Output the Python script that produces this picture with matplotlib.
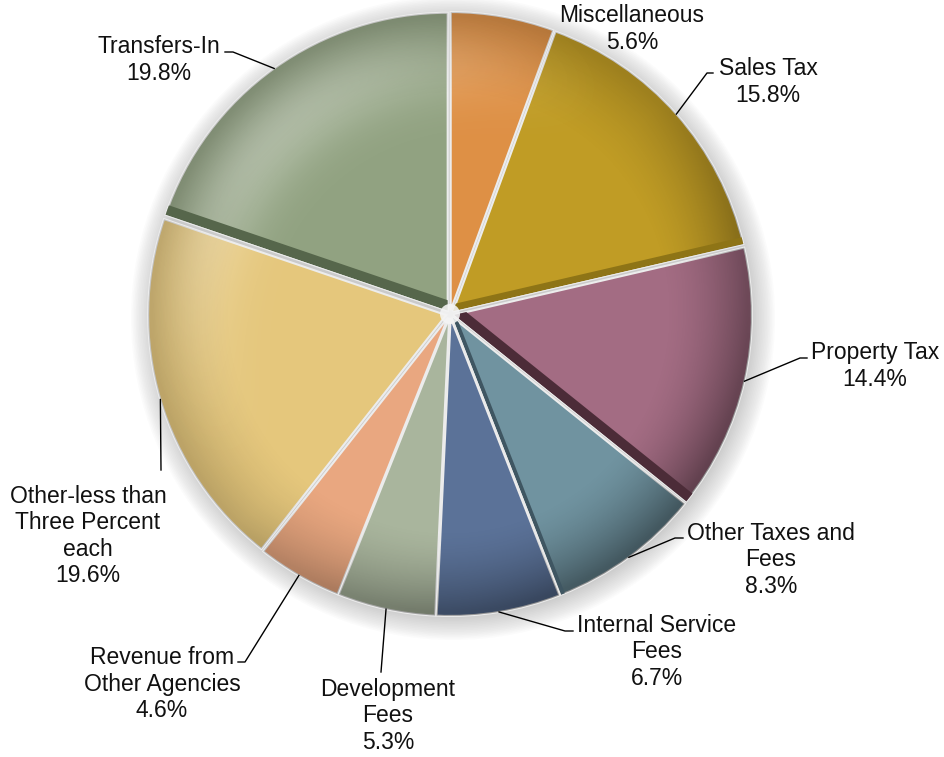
import numpy as np
import matplotlib.pyplot as plt
from matplotlib.patches import Circle, Polygon

plt.rcParams['font.family'] = ['Liberation Sans', 'DejaVu Sans']

labels = ['Miscellaneous', 'Sales Tax', 'Property Tax', 'Other Taxes and\nFees',
          'Internal Service\nFees', 'Development\nFees', 'Revenue from\nOther Agencies',
          'Other-less than\nThree Percent\neach', 'Transfers-In']
shares = [5.6, 15.8, 14.4, 8.3, 6.7, 5.3, 4.6, 19.6, 19.8]
colors = ['#DE9045', '#C09C25', '#A36C83', '#7093A0', '#5B7298',
          '#A9B59D', '#E9A780', '#E5C77C', '#91A281']

W, H = 944, 757
cx, cy, R = 450, H - 314, 298

fig = plt.figure(figsize=(W / 100, H / 100), dpi=100)
ax = fig.add_axes([0, 0, 1, 1])

# soft grey halo behind the pie
for k in range(16):
    ax.add_patch(Circle((cx + 3, cy - 4), R + 24 - k * 1.6, color='#6f6f6f',
                        alpha=0.022, lw=0, zorder=0))

wedges, _ = ax.pie(shares, colors=colors, startangle=90, counterclock=False,
                   center=(cx, cy), radius=R, explode=[4] * len(shares),
                   wedgeprops=dict(edgecolor='#ececec', linewidth=1.5),
                   frame=True)
ax.set_xlim(0, W)
ax.set_ylim(0, H)
ax.set_aspect('equal')
ax.axis('off')

# rim shading and highlight inside each slice
n = 500
gx, gy = np.meshgrid(np.linspace(-1.1, 1.1, n), np.linspace(-1.1, 1.1, n))
rr = np.hypot(gx, gy)
lower_right = np.clip((gx - gy) / np.sqrt(2) / np.maximum(rr, 1e-6), -1, 1)
dark = np.zeros((n, n, 4))
dark[..., 3] = np.clip((rr - 0.72) / 0.28, 0, 1) ** 1.6 * (0.18 + 0.22 * np.clip(lower_right, 0, 1))
light = np.ones((n, n, 4))
light[..., 3] = (np.exp(-((rr - 0.84) ** 2) / 0.02)
                 * np.clip(-lower_right, 0, 1) ** 2 * 0.3)
ext = [cx - 1.1 * R, cx + 1.1 * R, cy - 1.1 * R, cy + 1.1 * R]
for w in wedges:
    w.set_zorder(2)
    for img in (dark, light):
        im = ax.imshow(img, extent=ext, origin='lower', zorder=3,
                       interpolation='bilinear')
        im.set_clip_path(w)

# darker side walls along one straight edge of some slices
walls = {1: ('theta1', 7, '#8E7416'), 2: ('theta1', 10, '#4C2C38'),
         3: ('theta1', 4, '#3F5662'), 8: ('theta2', 10, '#56664B')}
for i, (edge, width, col) in walls.items():
    w = wedges[i]
    a = np.deg2rad(getattr(w, edge))
    u = np.array([np.cos(a), np.sin(a)])
    nrm = np.array([-np.sin(a), np.cos(a)]) if edge == 'theta1' else np.array([np.sin(a), -np.cos(a)])
    c = np.array(w.center)
    pts = [c, c + 1.05 * R * u, c + 1.05 * R * u + width * nrm, c + width * nrm]
    strip = Polygon(pts, closed=True, color=col, lw=0, zorder=4)
    ax.add_patch(strip)
    strip.set_clip_path(w)

# light spot where the slices meet
ax.add_patch(Circle((cx, cy), 10, color='#f4f4f4', alpha=0.9, lw=0, zorder=5))

# label text positions (pixels from top-left) and leader line bends
text_pos = [(632, 29), (768, 82), (875, 366), (771, 560), (657, 652),
            (388, 716), (162, 684), (88, 536), (159, 60)]
bends = [None, (707, 73), (800, 358), (675, 538), (565, 631),
         (381, 672), (245, 662), (161, 470), (233, 52)]
ends = [None, (713, 73), (807, 358), (683, 538), (573, 631),
        None, (238, 662), None, (225, 52)]

for w, lab, val, tp, bd, en in zip(wedges, labels, shares, text_pos, bends, ends):
    ax.text(tp[0], H - tp[1], f'{lab}\n{val:.1f}%', ha='center', va='center',
            fontsize=16.5, linespacing=1.2, color='#111111', zorder=6)
    if bd is None:
        continue
    mid = np.deg2rad((w.theta1 + w.theta2) / 2)
    x0 = w.center[0] + R * np.cos(mid)
    y0 = w.center[1] + R * np.sin(mid)
    xs, ys = [x0, bd[0]], [y0, H - bd[1]]
    if en is not None:
        xs.append(en[0])
        ys.append(H - en[1])
    ax.plot(xs, ys, color='black', lw=1, zorder=6)

fig.savefig('out.png', dpi=100, facecolor='white')
